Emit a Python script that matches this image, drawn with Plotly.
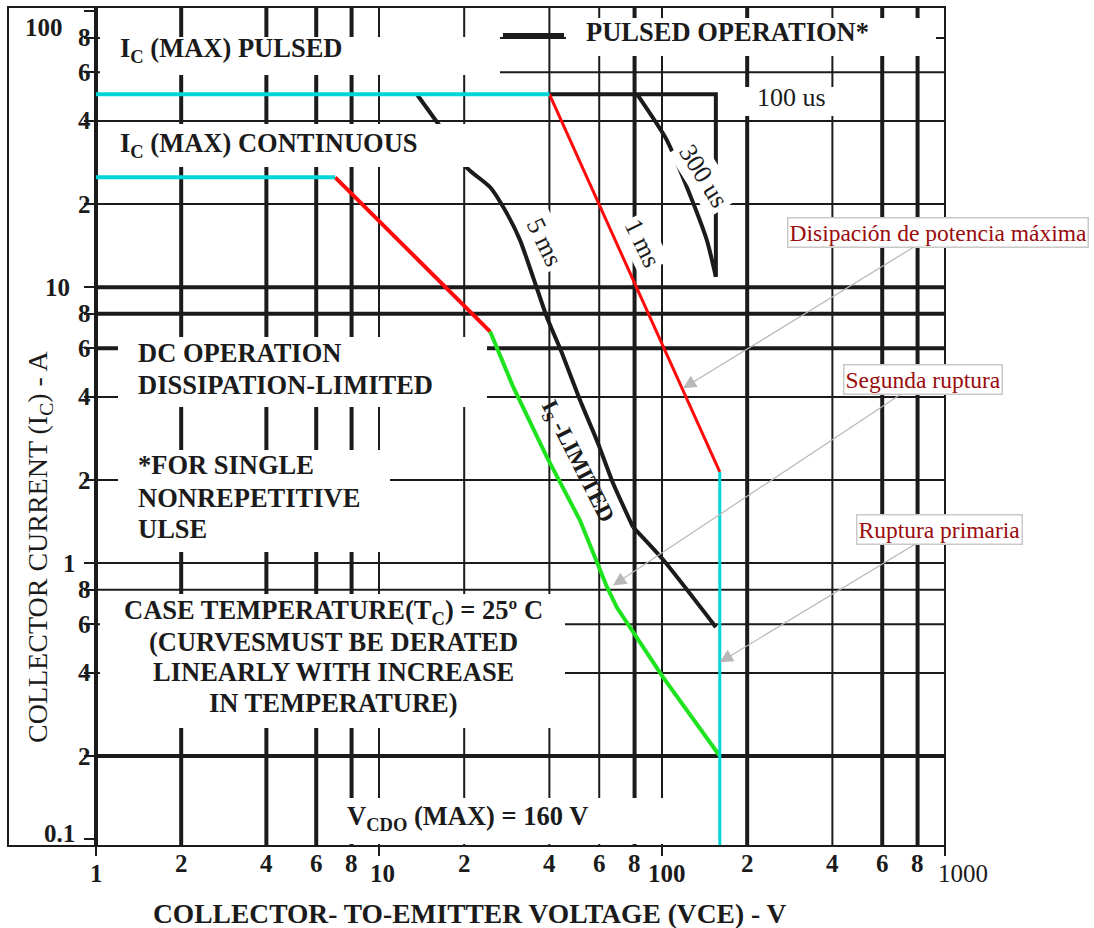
import math
import plotly.graph_objects as go

# ---------------------------------------------------------------- data
# Axis tick values and printed labels (log-log paper)
X_TICKS = [1, 2, 4, 6, 8, 10, 20, 40, 60, 80, 100, 200, 400, 600, 800, 1000]
X_TICK_TEXT = ["1", "2", "4", "6", "8", "10", "2", "4", "6", "8", "100",
               "2", "4", "6", "8", "1000"]
Y_TICKS = [100, 80, 60, 40, 20, 10, 8, 6, 4, 2, 1, 0.8, 0.6, 0.4, 0.2, 0.1]
Y_TICK_TEXT = ["100", "8", "6", "4", "2", "10", "8", "6", "4", "2", "1",
               "8", "6", "4", "2", "0.1"]
X_DECADES = [1, 10, 100, 1000]

# Heavy and light rulings of the grid
X_GRID_HEAVY = [1, 2, 4, 6, 8, 80, 200, 600, 800]
X_GRID_LIGHT = [10, 20, 40, 60, 100, 400]
Y_GRID_HEAVY = [10, 8, 6, 0.2]
Y_GRID_LIGHT = [80, 60, 40, 20, 4, 2, 1, 0.8, 0.6, 0.4]

# Safe-operating-area boundaries (VCE in volts, IC in amperes)
ic_pulsed_v = [1, 40]
ic_pulsed_a = [50, 50]
ic_cont_v = [1, 7]
ic_cont_a = [25, 25]
vceo_v = [160, 160]
vceo_a = [2.14, 0.09]

dc_diss_v = [7, 24.7]
dc_diss_a = [25, 6.9]
ms1_v = [40, 160]
ms1_a = [50, 2.14]

dc_sb_v = [24.7, 29.8, 39.2, 51.3, 63.9, 69.3, 100.8, 160]
dc_sb_a = [6.9, 4.35, 2.42, 1.43, 0.82, 0.69, 0.386, 0.2]

us100_v = [40, 155, 155]
us100_a = [50, 50, 10.9]
us300_v = [81.6, 104, 122.5, 144, 155]
us300_a = [50, 34.1, 23.0, 14.8, 10.9]
ms5_upper_v = [13.6, 16.8, 20.5, 24.7, 28.3, 31.5, 35.0, 39.2, 44.3, 51.3,
               59.4, 67.1, 79.0]
ms5_upper_a = [50, 37, 27, 23, 18.5, 14.8, 10.9, 7.78, 5.77, 3.9,
               2.72, 1.95, 1.35]
ms5_lower_v = [79.0, 100.8, 155]
ms5_lower_a = [1.35, 1.03, 0.586]

# ---------------------------------------------------------------- layout geometry
W, H = 1094, 928
ML, MR, MT, MB = 96, 149, 7, 82
PW, PH = W - ML - MR, H - MT - MB
X_RANGE = [0, 3]
Y_RANGE = [-1.025, 2.015]
Y_LO, Y_HI = 10 ** Y_RANGE[0], 10 ** Y_RANGE[1]
X_LO, X_HI = 10 ** X_RANGE[0], 10 ** X_RANGE[1]

INK = "#1b1b1b"
CYAN = "#00d6d6"
RED = "#ff0a0a"
GREEN = "#1ee31e"
NOTE_RED = "#9a0c0c"
SERIF = "Liberation Serif"
BODY = 26.5


def px_x(px):
    return (px - ML) / PW


def px_y(py):
    return (H - MB - py) / PH


fig = go.Figure()


def add_line(xs, ys, color, width, smooth=False):
    line = dict(color=color, width=width)
    if smooth:
        line.update(shape="spline", smoothing=0.6)
    fig.add_trace(go.Scatter(x=xs, y=ys, mode="lines", hoverinfo="skip",
                             showlegend=False, line=line))


def vlines(vals):
    xs, ys = [], []
    for v in vals:
        xs += [v, v, None]
        ys += [Y_LO, Y_HI, None]
    return xs, ys


def hlines(vals):
    xs, ys = [], []
    for v in vals:
        xs += [X_LO, X_HI, None]
        ys += [v, v, None]
    return xs, ys


# grid rulings
add_line(*vlines(X_GRID_LIGHT), INK, 2)
add_line(*hlines(Y_GRID_LIGHT), INK, 2)
add_line(*vlines(X_GRID_HEAVY), INK, 4)
add_line(*hlines(Y_GRID_HEAVY), INK, 4)

# boundaries
add_line(us100_v, us100_a, INK, 4)
add_line(us300_v, us300_a, INK, 4, smooth=True)
add_line(ms5_upper_v, ms5_upper_a, INK, 4, smooth=True)
add_line(ms5_lower_v, ms5_lower_a, INK, 4, smooth=True)
add_line(dc_diss_v, dc_diss_a, RED, 4)
add_line(ms1_v, ms1_a, RED, 3)
add_line(dc_sb_v, dc_sb_a, GREEN, 4)
add_line(ic_pulsed_v, ic_pulsed_a, CYAN, 4)
add_line(ic_cont_v, ic_cont_a, CYAN, 4)
add_line(vceo_v, vceo_a, CYAN, 3)

# ---------------------------------------------------------------- shapes
shapes = []
# white clearings behind the printed text blocks
CLEARINGS = [
    (100, 37, 500, 75),
    (566, 18, 936, 56),
    (736, 87, 845, 116),
    (100, 124, 470, 167),
    (118, 337, 487, 407),
    (118, 450, 390, 552),
    (100, 594, 565, 728),
    (345, 798, 670, 844),
]
for x0, y0, x1, y1 in CLEARINGS:
    shapes.append(dict(type="rect", xref="paper", yref="paper",
                       x0=px_x(x0), x1=px_x(x1), y0=px_y(y1), y1=px_y(y0),
                       fillcolor="white", line=dict(width=0), layer="above"))
# key line for "PULSED OPERATION*"
shapes.append(dict(type="line", xref="paper", yref="paper",
                   x0=px_x(503), x1=px_x(564), y0=px_y(35), y1=px_y(35),
                   line=dict(color=INK, width=4), layer="above"))
# outer frame
shapes.append(dict(type="rect", xref="paper", yref="paper",
                   x0=px_x(8), x1=1, y0=0, y1=1,
                   line=dict(color=INK, width=2),
                   fillcolor="rgba(0,0,0,0)", layer="above"))

# ---------------------------------------------------------------- text
ann = []


def note(text, px, py, size=BODY, bold=True, xanchor="left", angle=0,
         bg=None, pad=1, color=INK, family=SERIF):
    d = dict(text=text, xref="paper", yref="paper", x=px_x(px), y=px_y(py),
             xanchor=xanchor, yanchor="middle", showarrow=False,
             textangle=angle, borderpad=pad,
             font=dict(family=family, size=size, color=color,
                       weight="bold" if bold else "normal"))
    if bg:
        d["bgcolor"] = bg
    ann.append(d)


# x tick labels
for v, t in zip(X_TICKS, X_TICK_TEXT):
    dec = v in X_DECADES
    shift = {10: 3, 100: 5, 1000: 18}.get(v, 0)
    ann.append(dict(text=t, xref="x", yref="paper", x=math.log10(v),
                    y=px_y(873 if dec else 863), xanchor="center",
                    yanchor="middle", xshift=shift, showarrow=False,
                    font=dict(family=SERIF, size=25, color=INK,
                              weight="normal" if v == 1000 else "bold")))
# y tick labels
DECADE_RIGHT = {100: 65, 10: 72, 1: 78, 0.1: 77}
for v, t in zip(Y_TICKS, Y_TICK_TEXT):
    xr = DECADE_RIGHT.get(v, 93)
    yshift = {100: -16, 0.1: 6}.get(v, 0)
    ann.append(dict(text=t, xref="paper", yref="y", x=px_x(xr),
                    y=math.log10(v), xanchor="right", yanchor="middle",
                    yshift=yshift, showarrow=False,
                    font=dict(family=SERIF, size=25, color=INK,
                              weight="bold")))

note("I<sub>C</sub> (MAX) PULSED", 118, 50)
note("I<sub>C</sub> (MAX) CONTINUOUS", 118, 145)
note("PULSED OPERATION*", 584, 32)
note("100 us", 755, 97, size=26, bold=False)
note("DC OPERATION", 136, 353)
note("DISSIPATION-LIMITED", 136, 385)
note("*FOR SINGLE", 136, 465)
note("NONREPETITIVE", 136, 498)
note("ULSE", 136, 529)
note("CASE TEMPERATURE(T<sub>C</sub>) = 25º C", 333, 612, xanchor="center")
note("(CURVESMUST BE DERATED", 333, 642, xanchor="center")
note("LINEARLY WITH INCREASE", 333, 672, xanchor="center")
note("IN TEMPERATURE)", 333, 703, xanchor="center")
note("V<sub>CDO</sub> (MAX) = 160 V", 345, 818)

note("300 us", 703, 176, size=26, bold=False, angle=58, bg="white", pad=3,
     xanchor="center")
note("5 ms", 545, 242, size=26, bold=False, angle=64, bg="white", pad=3,
     xanchor="center")
note("1 ms", 643, 243, size=26, bold=False, angle=64, bg="white", pad=2,
     xanchor="center")
note("I<sub>S</sub> -LIMITED", 577, 462, size=23, angle=63, xanchor="center")

note("COLLECTOR- TO-EMITTER VOLTAGE (VCE) - V", 470, 913, size=27.5,
     xanchor="center")
note("COLLECTOR CURRENT (I<sub>C</sub>) - A", 39, 547, size=28, bold=False,
     xanchor="center", angle=-90)

# call-outs with arrows
CALLOUTS = [
    ("Disipación de potencia máxima", 118.6, 4.3, 255, -156),
    ("Segunda ruptura", 67.1, 0.83, 310, -206),
    ("Ruptura primaria", 160, 0.437, 220, -133),
]
for text, vx, ia, dx, dy in CALLOUTS:
    ann.append(dict(text=text, xref="x", yref="y", x=math.log10(vx),
                    y=math.log10(ia), ax=dx, ay=dy, showarrow=True,
                    arrowhead=2, arrowsize=2.2, arrowwidth=1.2,
                    arrowcolor="#b8b8b8", bgcolor="white",
                    bordercolor="#c9c9c9", borderwidth=1.5, borderpad=1,
                    font=dict(family=SERIF, size=23.5, color=NOTE_RED)))

fig.update_layout(
    width=W, height=H,
    margin=dict(l=ML, r=MR, t=MT, b=MB),
    paper_bgcolor="white", plot_bgcolor="white",
    showlegend=False,
    shapes=shapes, annotations=ann,
    xaxis=dict(type="log", range=X_RANGE, showgrid=False, zeroline=False,
               showline=False, tickvals=X_DECADES, ticks="outside",
               ticklen=9, tickwidth=2, tickcolor=INK,
               showticklabels=False, fixedrange=True),
    yaxis=dict(type="log", range=Y_RANGE, showgrid=False, zeroline=False,
               showline=True, linewidth=2, linecolor=INK,
               tickvals=Y_TICKS, ticks="outside", ticklen=10, tickwidth=2,
               tickcolor=INK, showticklabels=False, fixedrange=True),
)

fig.write_html("out.html")
